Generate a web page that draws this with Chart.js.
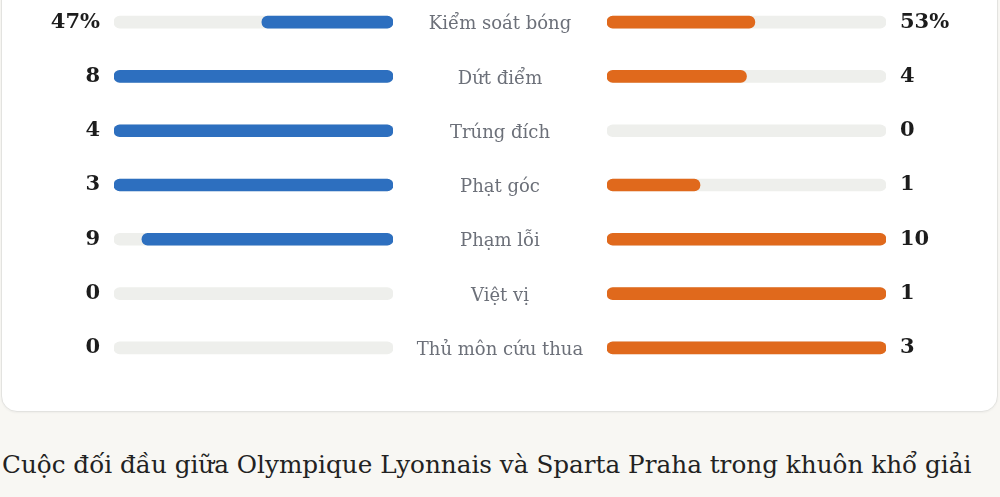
<!DOCTYPE html>
<html lang="vi">
<head>
<meta charset="utf-8">
<script src="https://cdn.jsdelivr.net/npm/chart.js@4.4.1/dist/chart.umd.min.js"></script>
<style>
  html, body { margin: 0; padding: 0; }
  body { width: 1000px; height: 497px; overflow: hidden; background: #f8f7f3; position: relative; }
  .card { position: absolute; left: 1px; top: -30px; width: 995px; height: 440px; background: #fff;
          border: 1px solid #e3e3e0; border-radius: 16px; box-shadow: 0 1px 2px rgba(0,0,0,0.04); }
  .wrap { position: absolute; top: -10px; height: 390px; }
  #wl { left: 0; width: 400px; }
  #wr { left: 400px; width: 600px; }
  .para { position: absolute; left: 2px; top: 445px; font: 24.7px/40px "DejaVu Serif", serif; color: #222;
          white-space: nowrap; }
</style>
</head>
<body>
<div class="card"></div>
<div class="wrap" id="wl"><canvas id="cl"></canvas></div>
<div class="wrap" id="wr"><canvas id="cr"></canvas></div>
<div class="para">Cuộc đối đầu giữa Olympique Lyonnais và Sparta Praha trong khuôn khổ giải</div>
<script>
const categories = ['Kiểm soát bóng', 'Dứt điểm', 'Trúng đích', 'Phạt góc', 'Phạm lỗi', 'Việt vị', 'Thủ môn cứu thua'];
const leftValues = [47, 8, 4, 3, 9, 0, 0];
const rightValues = [53, 4, 0, 1, 10, 1, 3];
const units = ['%', '', '', '', '', '', ''];

const leftTickLabels = leftValues.map((v, i) => v + units[i]);
const rightTickLabels = rightValues.map((v, i) => v + units[i]);
const denom = leftValues.map((v, i) => units[i] === '%' ? 100 : Math.max(v, rightValues[i]) || 1);
const toFrac = (vals) => vals.map((v, i) => v === 0 ? null : v / denom[i]);
const leftFrac = toFrac(leftValues);
const rightFrac = toFrac(rightValues);
const track = categories.map(() => 1);

const BLUE = '#2d6fbf', ORANGE = '#e0691c', TRACK = '#eeefec';
const numFont = { family: '"DejaVu Serif", serif', size: 21, weight: 'bold', lineHeight: '10px' };
const catFont = { family: '"DejaVu Serif", serif', size: 18, weight: 'normal', lineHeight: '5px' };

const mctx = document.createElement('canvas').getContext('2d');
mctx.font = `${catFont.size}px ${catFont.family}`;
const widest = Math.max(...categories.map(c => mctx.measureText(c).width));
const centerGap = 107 - widest / 2;

const barBase = { barThickness: 12, borderRadius: 6, borderSkipped: false, grouped: false };
const common = {
  indexAxis: 'y', responsive: true, maintainAspectRatio: false, animation: false,
  layout: { padding: 0 },
  plugins: { legend: { display: false }, tooltip: { enabled: false } }
};
const hiddenGrid = (len) => ({ display: true, drawOnChartArea: false, drawTicks: true, tickLength: len, color: 'rgba(0,0,0,0)' });

new Chart(document.getElementById('cl'), {
  type: 'bar',
  data: {
    labels: categories,
    datasets: [
      Object.assign({ data: leftFrac, backgroundColor: BLUE, order: 0 }, barBase),
      Object.assign({ data: track, backgroundColor: TRACK, order: 1 }, barBase)
    ]
  },
  options: Object.assign({}, common, {
    layout: { padding: { top: 0, bottom: 0, left: 0, right: 7 } },
    scales: {
      x: { type: 'linear', min: 0, max: 1, reverse: true, display: false },
      y: {
        type: 'category', position: 'left', offset: true,
        grid: hiddenGrid(14), border: { display: false },
        ticks: { callback: (v, i) => leftTickLabels[i], font: numFont, color: '#1c1c1c', padding: 0 },
        afterFit: s => { s.width = 114; }
      }
    }
  })
});

new Chart(document.getElementById('cr'), {
  type: 'bar',
  data: {
    labels: categories,
    datasets: [
      Object.assign({ data: rightFrac, backgroundColor: ORANGE, order: 0, yAxisID: 'y' }, barBase),
      Object.assign({ data: track, backgroundColor: TRACK, order: 1, yAxisID: 'y' }, barBase)
    ]
  },
  options: Object.assign({}, common, {
    scales: {
      x: { type: 'linear', min: 0, max: 1, display: false },
      y: {
        type: 'category', position: 'left', offset: true,
        grid: hiddenGrid(centerGap), border: { display: false },
        ticks: { callback: (v, i) => ['', categories[i]], font: catFont, color: '#6c7079', padding: 0, crossAlign: 'center' },
        afterFit: s => { s.width = 207; }
      },
      y2: {
        type: 'category', position: 'right', offset: true, labels: rightTickLabels,
        grid: hiddenGrid(14), border: { display: false },
        ticks: { font: numFont, color: '#1c1c1c', padding: 0 },
        afterFit: s => { s.width = 114; }
      }
    }
  })
});
</script>
</body>
</html>
